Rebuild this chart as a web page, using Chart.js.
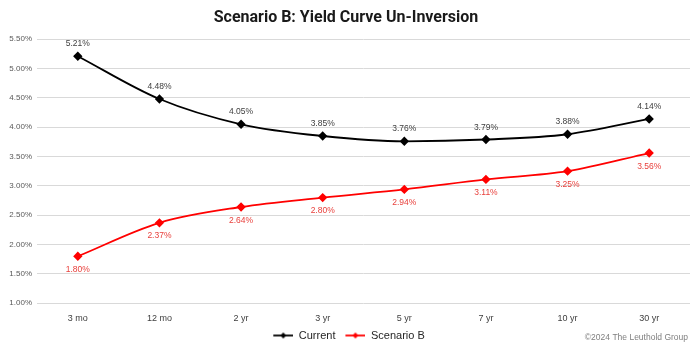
<!DOCTYPE html>
<html>
<head>
<meta charset="utf-8">
<script src="https://cdn.jsdelivr.net/npm/chart.js@4/dist/chart.umd.min.js"></script>
<style>
  html, body { margin: 0; padding: 0; background: #fff; }
  #wrap { width: 700px; height: 352px; position: relative; }
</style>
</head>
<body>
<div id="wrap"><canvas id="Chart1"></canvas></div>
<script>
var maturities = ["3 mo", "12 mo", "2 yr", "3 yr", "5 yr", "7 yr", "10 yr", "30 yr"];
var currentYields = [5.21, 4.48, 4.05, 3.85, 3.76, 3.79, 3.88, 4.14];
var scenarioBYields = [1.80, 2.37, 2.64, 2.80, 2.94, 3.11, 3.25, 3.56];
var yTicks = [1.0, 1.5, 2.0, 2.5, 3.0, 3.5, 4.0, 4.5, 5.0, 5.5];

// marcador da legenda: linha com losango (com espaço à esquerda)
function legendMarker(color) {
  var c = document.createElement("canvas");
  c.width = 26;
  c.height = 8;
  var g = c.getContext("2d");
  g.strokeStyle = color;
  g.lineWidth = 1.8;
  g.beginPath();
  g.moveTo(6, 4);
  g.lineTo(26, 4);
  g.stroke();
  g.fillStyle = color;
  g.beginPath();
  g.moveTo(16, 1);
  g.lineTo(19, 4);
  g.lineTo(16, 7);
  g.lineTo(13, 4);
  g.closePath();
  g.fill();
  return c;
}

// etiquetas de valor sobre/sob os pontos
var valueLabels = {
  id: "valueLabels",
  afterDatasetsDraw: function (chart) {
    var ctx = chart.ctx;
    ctx.save();
    ctx.font = "8.5px 'Liberation Sans', Arial, sans-serif";
    ctx.textAlign = "center";
    chart.data.datasets.forEach(function (ds, i) {
      var meta = chart.getDatasetMeta(i);
      meta.data.forEach(function (pt, j) {
        var txt = ds.data[j].toFixed(2) + "%";
        if (i === 0) {
          ctx.fillStyle = "#404040";
          ctx.textBaseline = "bottom";
          ctx.fillText(txt, pt.x, pt.y - 8);
        } else {
          ctx.fillStyle = "#e8403c";
          ctx.textBaseline = "top";
          ctx.fillText(txt, pt.x, pt.y + 9);
        }
      });
    });
    ctx.restore();
  },
};

// texto de copyright
var credit = {
  id: "credit",
  afterDraw: function (chart) {
    var ctx = chart.ctx;
    ctx.save();
    ctx.font = "8.5px 'Liberation Sans', Arial, sans-serif";
    ctx.fillStyle = "#7f7f7f";
    ctx.textAlign = "right";
    ctx.textBaseline = "middle";
    ctx.fillText("\u00a92024 The Leuthold Group", 688, 338);
    ctx.restore();
  },
};

var data = {
  labels: maturities,
  datasets: [
    {
      label: "Current",
      data: currentYields,
      borderColor: "#000000",
      backgroundColor: "#000000",
      borderWidth: 1.8,
      pointStyle: "rectRot",
      pointRadius: 3.4,
      pointHoverRadius: 3.4,
      cubicInterpolationMode: "monotone",
    },
    {
      label: "Scenario B",
      data: scenarioBYields,
      borderColor: "#ff0000",
      backgroundColor: "#ff0000",
      borderWidth: 1.8,
      pointStyle: "rectRot",
      pointRadius: 3.4,
      pointHoverRadius: 3.4,
      cubicInterpolationMode: "monotone",
    },
  ],
};

var options = {
  responsive: true,
  maintainAspectRatio: false,
  animation: false,
  layout: { padding: { left: 2, right: 10, top: 0, bottom: 1 } },
  plugins: {
    title: {
      display: true,
      text: "Scenario B: Yield Curve Un-Inversion",
      color: "#1a1a1a",
      font: { family: "'Liberation Sans Narrow', 'Roboto', sans-serif", size: 16, weight: "bold" },
      padding: { top: 8, bottom: 12 },
    },
    legend: {
      position: "bottom",
      align: "center",
      labels: {
        usePointStyle: true,
        generateLabels: function (chart) {
          return chart.data.datasets.map(function (ds, i) {
            return {
              text: ds.label,
              pointStyle: legendMarker(ds.borderColor),
              fontColor: "#262626",
              datasetIndex: i,
              hidden: false,
              lineWidth: 0,
            };
          });
        },
        pointStyleWidth: 26,
        boxHeight: 8,
        color: "#262626",
        font: { family: "'Liberation Sans', Arial, sans-serif", size: 11 },
        padding: 4,
      },
    },
    tooltip: { enabled: false },
  },
  scales: {
    x: {
      offset: true,
      grid: { display: false },
      border: { display: false },
      ticks: {
        color: "#404040",
        font: { family: "'Liberation Sans', Arial, sans-serif", size: 9 },
        padding: 2,
      },
    },
    y: {
      min: 1.0,
      max: 5.5,
      afterBuildTicks: function (axis) {
        axis.ticks = yTicks.map(function (v) { return { value: v }; });
      },
      afterFit: function (axis) { axis.width = 35; },
      grid: { color: "#d9d9d9", lineWidth: 1, drawTicks: false },
      border: { display: false },
      ticks: {
        color: "#595959",
        font: { family: "'Liberation Sans', Arial, sans-serif", size: 8 },
        padding: 5,
        callback: function (v) { return Number(v).toFixed(2) + "%"; },
      },
    },
  },
};

var ctx = document.getElementById("Chart1").getContext("2d");
var myChart = new Chart(ctx, {
  type: "line",
  data: data,
  options: options,
  plugins: [valueLabels, credit],
});
</script>
</body>
</html>
